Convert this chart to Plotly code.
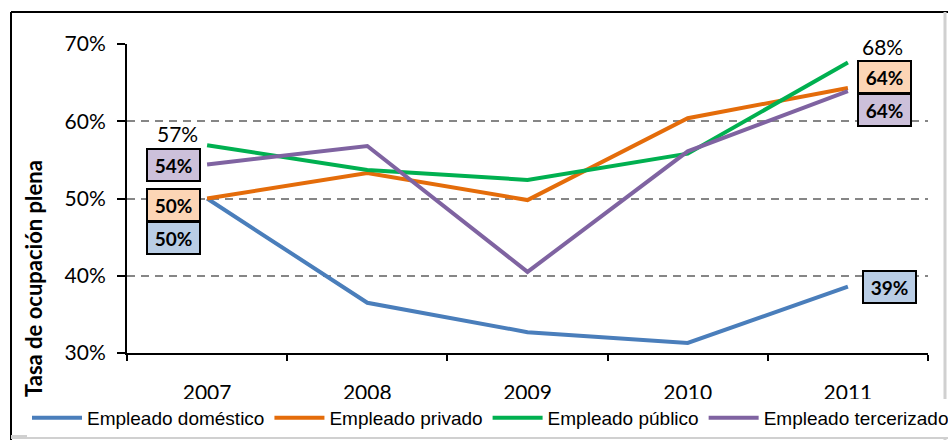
import plotly.graph_objects as go

years = ["2007", "2008", "2009", "2010", "2011"]
series_names = ["Empleado doméstico", "Empleado privado", "Empleado público", "Empleado tercerizado"]
domestico = [50.0, 36.5, 32.7, 31.3, 38.6]
privado = [50.0, 53.3, 49.8, 60.4, 64.3]
publico = [56.9, 53.7, 52.4, 55.8, 67.6]
tercerizado = [54.4, 56.8, 40.5, 56.1, 63.9]
y_ticks = [30, 40, 50, 60, 70]
y_tick_labels = ["30%", "40%", "50%", "60%", "70%"]

colors = ["#4A7EBB", "#E46C0A", "#00B050", "#7F63A1"]
fills = ["#B9CDE5", "#FCD5B5", None, "#CCC0DA"]
values = [domestico, privado, publico, tercerizado]

W, H = 948, 440
L, R, T, B = 127, 20, 44, 87
pw, ph = W - L - R, H - T - B


def px_x(px):
    return (px - L) / pw


def px_y(py):
    return (H - B - py) / ph


fig = go.Figure()
for name, vals, c in zip(series_names, values, colors):
    fig.add_trace(go.Scatter(x=years, y=vals, name=name, mode="lines",
                             line=dict(color=c, width=4)))

# data labels: (series index, point index, xshift, yshift, boxed)
label_specs = [
    (2, 0, -30, 12, False),
    (3, 0, -34, 0, True),
    (1, 0, -34, -6, True),
    (0, 0, -34, -39, True),
    (2, 4, 35, 16, False),
    (1, 4, 37, 11, True),
    (3, 4, 37, -19, True),
    (0, 4, 42, 0, True),
]
for si, pi, xs, ys, boxed in label_specs:
    v = values[si][pi]
    txt = f"{round(v)}%"
    if boxed:
        fig.add_annotation(x=pi, y=v, xref="x", yref="y", text=f"<b>{txt}</b>",
                           showarrow=False, xshift=xs, yshift=ys,
                           bgcolor=fills[si], bordercolor="black", borderwidth=2,
                           borderpad=0, width=51, height=30,
                           font=dict(family="Lato", size=19, color="black"))
    else:
        fig.add_annotation(x=pi, y=v, xref="x", yref="y", text=txt,
                           showarrow=False, xshift=xs, yshift=ys,
                           font=dict(family="Lato", size=21, color="black"))

# y axis title
fig.add_annotation(x=px_x(33), y=px_y(279), xref="paper", yref="paper",
                   xanchor="center", yanchor="middle",
                   text="<b>Tasa de ocupación plena</b>", textangle=-90, showarrow=False,
                   font=dict(family="Lato", size=22, color="black"))

# chart frame
shapes = [
    dict(type="line", xref="paper", yref="paper", x0=px_x(11), x1=px_x(950), y0=px_y(12), y1=px_y(12),
         line=dict(color="black", width=2)),
    dict(type="line", xref="paper", yref="paper", x0=px_x(11), x1=px_x(11), y0=px_y(12), y1=px_y(442),
         line=dict(color="black", width=2)),
    dict(type="line", xref="paper", yref="paper", x0=px_x(945), x1=px_x(945), y0=px_y(12), y1=px_y(442),
         line=dict(color="#D0D0D0", width=3)),
    dict(type="line", xref="paper", yref="paper", x0=px_x(11), x1=px_x(950), y0=px_y(437), y1=px_y(437),
         line=dict(color="#D0D0D0", width=4)),
]

fig.update_layout(
    width=W, height=H,
    margin=dict(l=L, r=R, t=T, b=B, autoexpand=False),
    paper_bgcolor="white", plot_bgcolor="white",
    shapes=shapes,
    showlegend=True,
    legend=dict(orientation="h", x=px_x(27), y=px_y(399), xanchor="left", yanchor="top",
                font=dict(family="Liberation Sans", size=19, color="black"),
                itemwidth=50, tracegroupgap=0),
    xaxis=dict(type="category", showline=True, linecolor="black", linewidth=2,
               ticks="outside", tickson="boundaries", ticklen=6, tickwidth=2, tickcolor="black",
               showgrid=False, tickfont=dict(family="Lato", size=21, color="black"),
               ticklabelstandoff=20, range=[-0.5, 4.5], automargin=False),
    yaxis=dict(range=[30, 70], tickvals=y_ticks, ticktext=y_tick_labels,
               showline=True, linecolor="black", linewidth=2,
               ticks="outside", ticklen=8, tickwidth=2, tickcolor="black",
               showgrid=True, gridcolor="#868686", gridwidth=1.5, griddash="8px,6px",
               zeroline=False, automargin=False, ticklabelstandoff=7,
               tickfont=dict(family="Lato", size=21, color="black")),
)

fig.write_html("out.html", config={"displayModeBar": False},
               post_script="document.body.style.margin='0';document.body.style.overflow='hidden';")
